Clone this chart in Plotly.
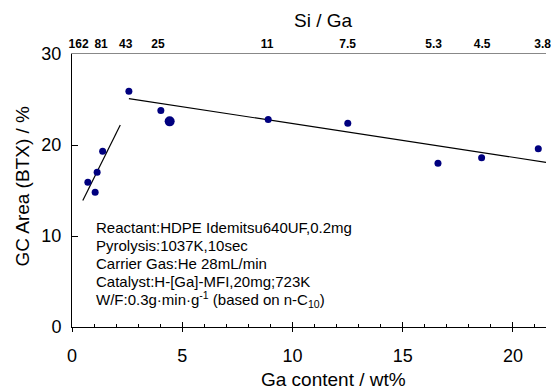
import plotly.graph_objects as go

# Data
ga_content = [0.72, 1.05, 1.14, 1.39, 2.58, 4.03, 8.9, 12.51, 16.6, 18.58, 21.15]
btx_area = [15.9, 14.8, 17.0, 19.3, 25.9, 23.8, 22.8, 22.4, 18.0, 18.6, 19.6]
big_x = [4.43]
big_y = [22.6]

fit1_x = [0.49, 2.19]
fit1_y = [13.9, 22.2]
fit2_x = [2.58, 21.5]
fit2_y = [25.1, 18.1]

si_ga_pos = [0.30, 1.32, 2.44, 3.9, 8.85, 12.5, 16.4, 18.6, 21.35]
si_ga_text = ["162", "81", "43", "25", "11", "7.5", "5.3", "4.5", "3.8"]

note_lines = [
    "Reactant:HDPE Idemitsu640UF,0.2mg",
    "Pyrolysis:1037K,10sec",
    "Carrier Gas:He 28mL/min",
    "Catalyst:H-[Ga]-MFI,20mg;723K",
    "W/F:0.3g·min·g<sup>-1</sup> (based on n-C<sub>10</sub>)",
]
note_y = [10.9, 8.93, 6.95, 4.96, 2.98]

FONT = "Liberation Sans, Arial, sans-serif"
NAVY = "#00007f"

fig = go.Figure()
fig.add_trace(go.Scatter(x=fit1_x, y=fit1_y, mode="lines",
                         line=dict(color="black", width=1.2), showlegend=False))
fig.add_trace(go.Scatter(x=fit2_x, y=fit2_y, mode="lines",
                         line=dict(color="black", width=1.2), showlegend=False))
fig.add_trace(go.Scatter(x=ga_content, y=btx_area, mode="markers",
                         marker=dict(color=NAVY, size=7), showlegend=False))
fig.add_trace(go.Scatter(x=big_x, y=big_y, mode="markers",
                         marker=dict(color=NAVY, size=10), showlegend=False))
# dummy traces to activate overlay axes
fig.add_trace(go.Scatter(x=[None], y=[None], xaxis="x2", showlegend=False))
fig.add_trace(go.Scatter(x=[None], y=[None], xaxis="x3", showlegend=False))

xr = [0, 21.5]
fig.update_layout(
    width=551, height=389,
    margin=dict(l=72, r=0, t=54, b=62),
    paper_bgcolor="white", plot_bgcolor="white",
    font=dict(family=FONT, color="black"),
    xaxis=dict(range=xr, tickvals=[0, 5, 10, 15, 20], ticks="inside", ticklen=5,
               tickcolor="black", showline=True, linecolor="black", linewidth=1,
               showgrid=False, zeroline=False,
               tickfont=dict(size=18), ticklabelstandoff=12,
               minor=dict(dtick=1, ticks="inside", ticklen=3, tickcolor="black", showgrid=False)),
    xaxis2=dict(range=xr, overlaying="x", anchor="y", side="bottom",
                tickvals=[0, 5, 10, 15, 20], ticks="outside", ticklen=4,
                tickcolor="black", showticklabels=False, showline=False,
                showgrid=False, zeroline=False),
    xaxis3=dict(range=xr, overlaying="x", anchor="y", side="top",
                tickvals=si_ga_pos, ticktext=si_ga_text, ticks="",
                showline=True, linecolor="#888888", linewidth=1,
                showgrid=False, zeroline=False, ticklabelstandoff=0,
                ticklabeloverflow="allow",
                tickfont=dict(size=12, family="Liberation Sans, Arial, sans-serif", weight="bold")),
    yaxis=dict(range=[0, 30], tickvals=[0, 10, 20, 30], ticks="inside", ticklen=6,
               tickcolor="black", showline=True, linecolor="black", linewidth=1,
               showgrid=False, zeroline=False, tickfont=dict(size=18),
               ticklabelstandoff=6),
)

annotations = []
for txt, yy in zip(note_lines, note_y):
    annotations.append(dict(x=1.0, y=yy, xref="x", yref="y", text=txt, showarrow=False,
                            xanchor="left", yanchor="middle",
                            font=dict(size=15, family=FONT, color="black")))
annotations.append(dict(x=336, y=379, xref="paper", yref="paper", text="Ga content / wt%",
                        showarrow=False, xanchor="center", yanchor="middle",
                        font=dict(size=19, family=FONT, color="black")))
annotations.append(dict(x=326, y=20, xref="paper", yref="paper", text="Si / Ga",
                        showarrow=False, xanchor="center", yanchor="middle",
                        font=dict(size=19, family=FONT, color="black")))
annotations.append(dict(x=22, y=186, xref="paper", yref="paper", text="GC Area (BTX) / %",
                        showarrow=False, xanchor="center", yanchor="middle", textangle=-90,
                        font=dict(size=19, family=FONT, color="black")))

# convert pixel-placed annotations to paper coordinates
W, H = 551, 389
l, r, t, b = 72, 0, 54, 62
pw, ph = W - l - r, H - t - b
for a in annotations:
    if a["xref"] == "paper":
        a["x"] = (a["x"] - l) / pw
        a["y"] = (H - b - a["y"]) / ph
fig.update_layout(annotations=annotations)

fig.write_html("out.html")
